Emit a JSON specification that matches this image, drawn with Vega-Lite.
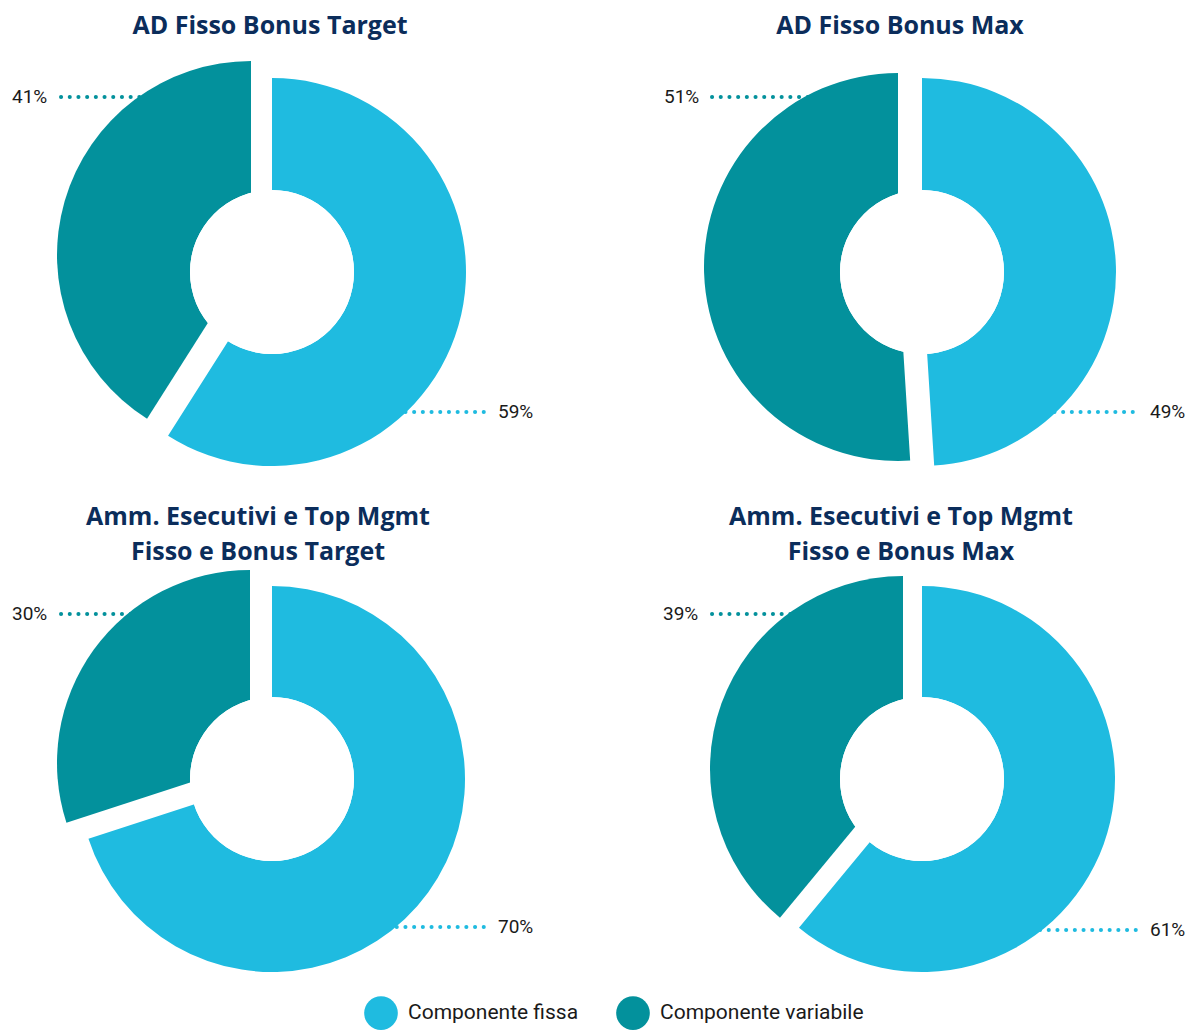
{
  "$schema": "https://vega.github.io/schema/vega-lite/v6.json",
  "padding": {"left": 7, "top": 14, "right": 0, "bottom": 0},
  "autosize": {"type": "pad"},
  "background": "white",
  "data": {"values": [
    {"panel": "p1", "comp": "Componente fissa", "value": 59},
    {"panel": "p1", "comp": "Componente variabile", "value": 41},
    {"panel": "p2", "comp": "Componente fissa", "value": 49},
    {"panel": "p2", "comp": "Componente variabile", "value": 51},
    {"panel": "p3", "comp": "Componente fissa", "value": 70},
    {"panel": "p3", "comp": "Componente variabile", "value": 30},
    {"panel": "p4", "comp": "Componente fissa", "value": 61},
    {"panel": "p4", "comp": "Componente variabile", "value": 39}
  ]},
  "spacing": 22,
  "vconcat": [
    {
      "spacing": 120,
      "hconcat": [
        {
          "width": 530, "height": 422,
          "title": {"text": "AD Fisso Bonus Target", "offset": 22, "dx": -2},
          "transform": [{"filter": "datum.panel == 'p1'"}, {"calculate": "datum.value + '%'", "as": "label"}],
          "layer": [
            {"mark": {"type": "rule", "strokeWidth": 4, "strokeCap": "round", "strokeDash": [0.1, 8.6], "x2Offset": 100},
             "encoding": {
               "x": {"field": "comp", "type": "nominal", "scale": {"type": "point", "padding": 0, "domain": ["Componente variabile", "Componente fissa"], "range": [54, 381]}, "axis": null},
               "x2": {"field": "comp"},
               "y": {"field": "comp", "type": "nominal", "scale": {"type": "point", "padding": 0, "domain": ["Componente variabile", "Componente fissa"], "range": [36, 351]}, "axis": null},
               "color": {"field": "comp", "type": "nominal", "scale": {"domain": ["Componente fissa", "Componente variabile"], "range": ["#1FBBE0", "#03919C"]}, "legend": {"title": null}}
             }},
            {"mark": {"type": "arc", "radius": 194},
             "encoding": {
               "theta": {"field": "value", "type": "quantitative", "stack": true},
               "order": {"field": "comp", "sort": "ascending"},
               "color": {"field": "comp", "type": "nominal", "scale": {"domain": ["Componente fissa", "Componente variabile"], "range": ["#1FBBE0", "#03919C"]}, "legend": {"title": null}},
               "opacity": {"condition": {"test": "datum.comp == 'Componente fissa'", "value": 1}, "value": 0}
             }},
            {"mark": {"type": "arc", "radius": 194, "xOffset": -21, "yOffset": -17},
             "encoding": {
               "theta": {"field": "value", "type": "quantitative", "stack": true},
               "order": {"field": "comp", "sort": "ascending"},
               "color": {"field": "comp", "type": "nominal", "scale": {"domain": ["Componente fissa", "Componente variabile"], "range": ["#1FBBE0", "#03919C"]}, "legend": {"title": null}},
               "opacity": {"condition": {"test": "datum.comp == 'Componente variabile'", "value": 1}, "value": 0}
             }},
            {"mark": {"type": "arc", "radius": 82, "theta": 0, "theta2": 6.2832, "fill": "white"}, "encoding": {}},
            {"mark": {"type": "text", "align": "left", "baseline": "middle", "fontSize": 19, "font": "Roboto", "color": "#1a1a1a"},
             "encoding": {
               "x": {"field": "comp", "type": "nominal", "scale": {"type": "point", "padding": 0, "domain": ["Componente variabile", "Componente fissa"], "range": [5, 491]}, "axis": null},
               "y": {"field": "comp", "type": "nominal", "scale": {"type": "point", "padding": 0, "domain": ["Componente variabile", "Componente fissa"], "range": [36, 351]}, "axis": null},
               "text": {"field": "label"}
             }}
          ],
          "resolve": {"scale": {"x": "independent"}}
        },
        {
          "width": 530, "height": 422,
          "title": {"text": "AD Fisso Bonus Max", "offset": 22, "dx": -22},
          "transform": [{"filter": "datum.panel == 'p2'"}, {"calculate": "datum.value + '%'", "as": "label"}],
          "layer": [
            {"mark": {"type": "rule", "strokeWidth": 4, "strokeCap": "round", "strokeDash": [0.1, 8.6], "x2Offset": 100},
             "encoding": {
               "x": {"field": "comp", "type": "nominal", "scale": {"type": "point", "padding": 0, "domain": ["Componente variabile", "Componente fissa"], "range": [55, 380]}, "axis": null},
               "x2": {"field": "comp"},
               "y": {"field": "comp", "type": "nominal", "scale": {"type": "point", "padding": 0, "domain": ["Componente variabile", "Componente fissa"], "range": [36, 351]}, "axis": null},
               "color": {"field": "comp", "type": "nominal", "scale": {"domain": ["Componente fissa", "Componente variabile"], "range": ["#1FBBE0", "#03919C"]}, "legend": {"title": null}}
             }},
            {"mark": {"type": "arc", "radius": 194},
             "encoding": {
               "theta": {"field": "value", "type": "quantitative", "stack": true},
               "order": {"field": "comp", "sort": "ascending"},
               "color": {"field": "comp", "type": "nominal", "scale": {"domain": ["Componente fissa", "Componente variabile"], "range": ["#1FBBE0", "#03919C"]}, "legend": {"title": null}},
               "opacity": {"condition": {"test": "datum.comp == 'Componente fissa'", "value": 1}, "value": 0}
             }},
            {"mark": {"type": "arc", "radius": 194, "xOffset": -24, "yOffset": -5},
             "encoding": {
               "theta": {"field": "value", "type": "quantitative", "stack": true},
               "order": {"field": "comp", "sort": "ascending"},
               "color": {"field": "comp", "type": "nominal", "scale": {"domain": ["Componente fissa", "Componente variabile"], "range": ["#1FBBE0", "#03919C"]}, "legend": {"title": null}},
               "opacity": {"condition": {"test": "datum.comp == 'Componente variabile'", "value": 1}, "value": 0}
             }},
            {"mark": {"type": "arc", "radius": 82, "theta": 0, "theta2": 6.2832, "fill": "white"}, "encoding": {}},
            {"mark": {"type": "text", "align": "left", "baseline": "middle", "fontSize": 19, "font": "Roboto", "color": "#1a1a1a"},
             "encoding": {
               "x": {"field": "comp", "type": "nominal", "scale": {"type": "point", "padding": 0, "domain": ["Componente variabile", "Componente fissa"], "range": [7, 493]}, "axis": null},
               "y": {"field": "comp", "type": "nominal", "scale": {"type": "point", "padding": 0, "domain": ["Componente variabile", "Componente fissa"], "range": [36, 351]}, "axis": null},
               "text": {"field": "label"}
             }}
          ],
          "resolve": {"scale": {"x": "independent"}}
        }
      ]
    },
    {
      "spacing": 120,
      "hconcat": [
        {
          "width": 530, "height": 422,
          "title": {"text": ["Amm. Esecutivi e Top Mgmt", "Fisso e Bonus Target"], "offset": 3, "dx": -14},
          "transform": [{"filter": "datum.panel == 'p3'"}, {"calculate": "datum.value + '%'", "as": "label"}],
          "layer": [
            {"mark": {"type": "rule", "strokeWidth": 4, "strokeCap": "round", "strokeDash": [0.1, 8.6], "x2Offset": 100},
             "encoding": {
               "x": {"field": "comp", "type": "nominal", "scale": {"type": "point", "padding": 0, "domain": ["Componente variabile", "Componente fissa"], "range": [54, 381]}, "axis": null},
               "x2": {"field": "comp"},
               "y": {"field": "comp", "type": "nominal", "scale": {"type": "point", "padding": 0, "domain": ["Componente variabile", "Componente fissa"], "range": [46, 359]}, "axis": null},
               "color": {"field": "comp", "type": "nominal", "scale": {"domain": ["Componente fissa", "Componente variabile"], "range": ["#1FBBE0", "#03919C"]}, "legend": {"title": null}}
             }},
            {"mark": {"type": "arc", "radius": 193},
             "encoding": {
               "theta": {"field": "value", "type": "quantitative", "stack": true},
               "order": {"field": "comp", "sort": "ascending"},
               "color": {"field": "comp", "type": "nominal", "scale": {"domain": ["Componente fissa", "Componente variabile"], "range": ["#1FBBE0", "#03919C"]}, "legend": {"title": null}},
               "opacity": {"condition": {"test": "datum.comp == 'Componente fissa'", "value": 1}, "value": 0}
             }},
            {"mark": {"type": "arc", "radius": 193, "xOffset": -22, "yOffset": -16},
             "encoding": {
               "theta": {"field": "value", "type": "quantitative", "stack": true},
               "order": {"field": "comp", "sort": "ascending"},
               "color": {"field": "comp", "type": "nominal", "scale": {"domain": ["Componente fissa", "Componente variabile"], "range": ["#1FBBE0", "#03919C"]}, "legend": {"title": null}},
               "opacity": {"condition": {"test": "datum.comp == 'Componente variabile'", "value": 1}, "value": 0}
             }},
            {"mark": {"type": "arc", "radius": 82, "theta": 0, "theta2": 6.2832, "fill": "white"}, "encoding": {}},
            {"mark": {"type": "text", "align": "left", "baseline": "middle", "fontSize": 19, "font": "Roboto", "color": "#1a1a1a"},
             "encoding": {
               "x": {"field": "comp", "type": "nominal", "scale": {"type": "point", "padding": 0, "domain": ["Componente variabile", "Componente fissa"], "range": [5, 491]}, "axis": null},
               "y": {"field": "comp", "type": "nominal", "scale": {"type": "point", "padding": 0, "domain": ["Componente variabile", "Componente fissa"], "range": [46, 359]}, "axis": null},
               "text": {"field": "label"}
             }}
          ],
          "resolve": {"scale": {"x": "independent"}}
        },
        {
          "width": 530, "height": 422,
          "title": {"text": ["Amm. Esecutivi e Top Mgmt", "Fisso e Bonus Max"], "offset": 3, "dx": -21},
          "transform": [{"filter": "datum.panel == 'p4'"}, {"calculate": "datum.value + '%'", "as": "label"}],
          "layer": [
            {"mark": {"type": "rule", "strokeWidth": 4, "strokeCap": "round", "strokeDash": [0.1, 8.6], "x2Offset": 100},
             "encoding": {
               "x": {"field": "comp", "type": "nominal", "scale": {"type": "point", "padding": 0, "domain": ["Componente variabile", "Componente fissa"], "range": [55, 383]}, "axis": null},
               "x2": {"field": "comp"},
               "y": {"field": "comp", "type": "nominal", "scale": {"type": "point", "padding": 0, "domain": ["Componente variabile", "Componente fissa"], "range": [46, 362]}, "axis": null},
               "color": {"field": "comp", "type": "nominal", "scale": {"domain": ["Componente fissa", "Componente variabile"], "range": ["#1FBBE0", "#03919C"]}, "legend": {"title": null}}
             }},
            {"mark": {"type": "arc", "radius": 193},
             "encoding": {
               "theta": {"field": "value", "type": "quantitative", "stack": true},
               "order": {"field": "comp", "sort": "ascending"},
               "color": {"field": "comp", "type": "nominal", "scale": {"domain": ["Componente fissa", "Componente variabile"], "range": ["#1FBBE0", "#03919C"]}, "legend": {"title": null}},
               "opacity": {"condition": {"test": "datum.comp == 'Componente fissa'", "value": 1}, "value": 0}
             }},
            {"mark": {"type": "arc", "radius": 193, "xOffset": -19, "yOffset": -10},
             "encoding": {
               "theta": {"field": "value", "type": "quantitative", "stack": true},
               "order": {"field": "comp", "sort": "ascending"},
               "color": {"field": "comp", "type": "nominal", "scale": {"domain": ["Componente fissa", "Componente variabile"], "range": ["#1FBBE0", "#03919C"]}, "legend": {"title": null}},
               "opacity": {"condition": {"test": "datum.comp == 'Componente variabile'", "value": 1}, "value": 0}
             }},
            {"mark": {"type": "arc", "radius": 82, "theta": 0, "theta2": 6.2832, "fill": "white"}, "encoding": {}},
            {"mark": {"type": "text", "align": "left", "baseline": "middle", "fontSize": 19, "font": "Roboto", "color": "#1a1a1a"},
             "encoding": {
               "x": {"field": "comp", "type": "nominal", "scale": {"type": "point", "padding": 0, "domain": ["Componente variabile", "Componente fissa"], "range": [6, 493]}, "axis": null},
               "y": {"field": "comp", "type": "nominal", "scale": {"type": "point", "padding": 0, "domain": ["Componente variabile", "Componente fissa"], "range": [46, 362]}, "axis": null},
               "text": {"field": "label"}
             }}
          ],
          "resolve": {"scale": {"x": "independent"}}
        }
      ]
    }
  ],
  "resolve": {"scale": {"color": "shared"}, "legend": {"color": "shared"}},
  "config": {
    "view": {"stroke": null},
    "title": {"font": "Open Sans", "fontSize": 25, "fontWeight": 700, "color": "#0B2D5B", "anchor": "middle", "lineHeight": 35, "baseline": "top"},
    "legend": {"orient": "none", "legendX": 357, "legendY": 935, "direction": "horizontal", "symbolType": "circle", "symbolSize": 1134, "symbolStrokeWidth": 0, "symbolOpacity": 1, "labelFontSize": 21, "labelFont": "Roboto", "labelColor": "#1a1a1a", "labelOffset": 10, "labelLimit": 0, "columnPadding": 37, "title": null}
  }
}
